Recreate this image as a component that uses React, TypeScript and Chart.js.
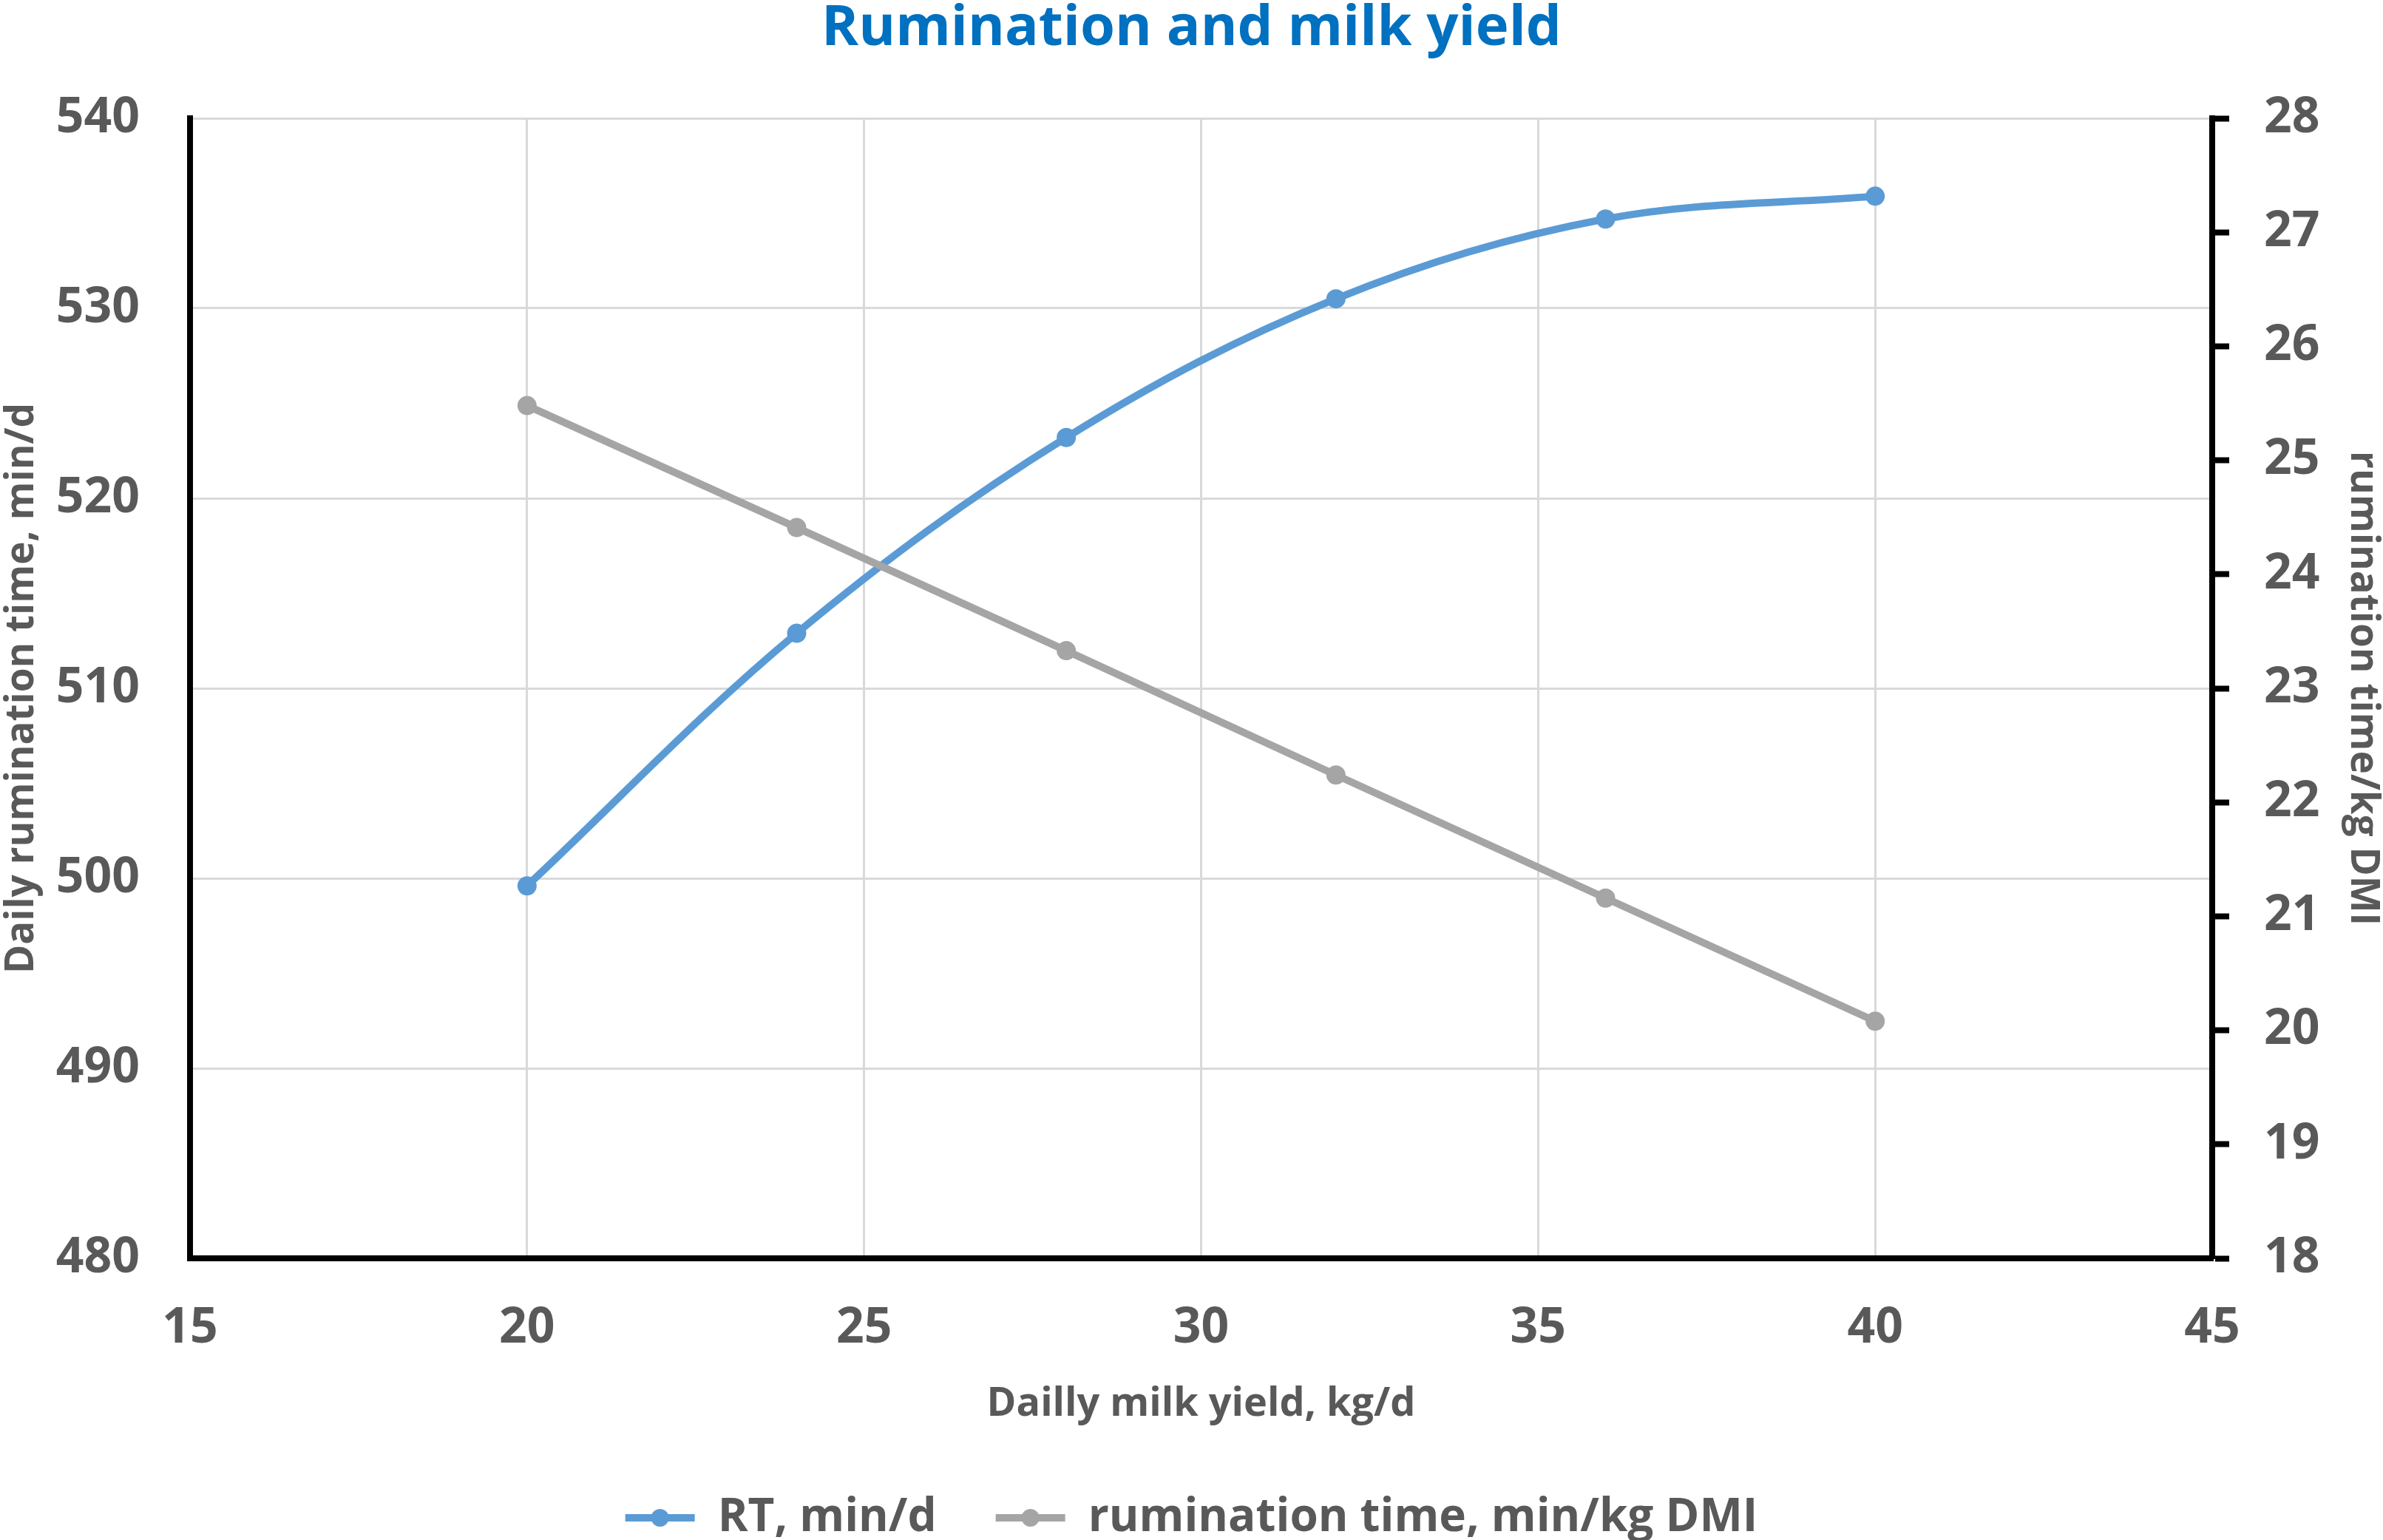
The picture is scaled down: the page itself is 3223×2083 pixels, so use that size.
import { useEffect, useRef } from "react";
import { Chart, registerables } from "chart.js";

Chart.register(...registerables);

// ---- data ----
const milkYield = [20, 24, 28, 32, 36, 40];
const rtMinPerDay = [499.6, 512.9, 523.2, 530.5, 534.7, 535.9];
const rtMinPerKgDMI = [25.48, 24.41, 23.33, 22.24, 21.16, 20.08];
const seriesLabels = ["RT, min/d", "rumination time, min/kg DMI"];
const chartTitle = "Rumination and milk yield";
const xAxisTitle = "Dailly milk yield, kg/d";
const yAxisTitle = "Daily rumination time, min/d";
const y2AxisTitle = "rumination time/kg DMI";

const FONT = "'Open Sans', 'DejaVu Sans', sans-serif";
const TEXT_GREY = "#595959";
const BLUE = "#5B9BD5";
const GREY = "#A5A5A5";
const GRID = "#D9D9D9";
const LEGEND_BOX = 94;
const LINE_W = 10;

const legendMarkers = {
  id: "legendMarkers",
  afterDraw(chart: any) {
    const legend = chart.legend;
    if (!legend || !legend.legendHitBoxes) return;
    const ctx = chart.ctx;
    legend.legendItems.forEach((item: any, i: number) => {
      const hb = legend.legendHitBoxes[i];
      if (!hb) return;
      const cx = hb.left + LEGEND_BOX / 2;
      const cy = hb.top + hb.height / 2;
      ctx.save();
      ctx.fillStyle = item.strokeStyle;
      ctx.beginPath();
      ctx.arc(cx, cy, 12, 0, Math.PI * 2);
      ctx.fill();
      ctx.restore();
    });
  },
};

export default function App() {
  const canvasRef = useRef<HTMLCanvasElement | null>(null);

  useEffect(() => {
    if (!canvasRef.current) return;
    const chart = new Chart(canvasRef.current, {
      type: "line",
      data: {
        datasets: [
          {
            label: seriesLabels[0],
            data: milkYield.map((x, i) => ({ x, y: rtMinPerDay[i] })),
            borderColor: BLUE,
            backgroundColor: BLUE,
            borderWidth: LINE_W,
            pointRadius: 12,
            pointBorderWidth: 2,
            pointBackgroundColor: BLUE,
            pointBorderColor: BLUE,
            tension: 0.35,
            yAxisID: "y",
            order: 1,
          },
          {
            label: seriesLabels[1],
            data: milkYield.map((x, i) => ({ x, y: rtMinPerKgDMI[i] })),
            borderColor: GREY,
            backgroundColor: GREY,
            borderWidth: LINE_W,
            pointRadius: 12,
            pointBorderWidth: 2,
            pointBackgroundColor: GREY,
            pointBorderColor: GREY,
            tension: 0,
            yAxisID: "y2",
            order: 0,
          },
        ],
      },
      options: {
        animation: false,
        responsive: true,
        maintainAspectRatio: false,
        devicePixelRatio: 1,
        layout: { padding: { left: 0, right: 0, top: 0, bottom: -11 } },
        plugins: {
          title: {
            display: true,
            text: chartTitle,
            color: "#0070C0",
            font: { family: FONT, size: 76, weight: "bold", lineHeight: 1 },
            padding: { top: 1, bottom: 83 },
          },
          legend: {
            display: true,
            position: "bottom",
            labels: {
              color: TEXT_GREY,
              font: { family: FONT, size: 62, weight: "bold" },
              usePointStyle: true,
              pointStyle: "line",
              pointStyleWidth: LEGEND_BOX,
              boxHeight: 62,
              padding: 80,
              sort: (a: any, b: any) => a.datasetIndex - b.datasetIndex,
              generateLabels: (chart: any) => {
                const base = (Chart as any).defaults.plugins.legend.labels.generateLabels(chart);
                return base.map((item: any) => {
                  const ds = chart.data.datasets[item.datasetIndex];
                  return {
                    ...item,
                    pointStyle: "line",
                    lineWidth: LINE_W,
                    strokeStyle: ds.borderColor,
                    fillStyle: ds.borderColor,
                  };
                });
              },
            },
          },
          tooltip: { enabled: false },
        },
        scales: {
          x: {
            type: "linear",
            position: "bottom",
            min: 15,
            max: 45,
            ticks: {
              stepSize: 5,
              color: TEXT_GREY,
              font: { family: FONT, size: 66, weight: "bold" },
              padding: 56,
            },
            grid: { color: GRID, lineWidth: 3, drawTicks: false },
            border: { display: true, color: "#000000", width: 8 },
            title: {
              display: true,
              text: xAxisTitle,
              color: TEXT_GREY,
              font: { family: FONT, size: 54, weight: "bold", lineHeight: 1 },
              padding: { top: 0, bottom: 15 },
            },
            afterFit: (scale: any) => {
              scale.height = 240;
            },
          },
          y: {
            type: "linear",
            position: "left",
            min: 480,
            max: 540,
            ticks: {
              stepSize: 10,
              color: TEXT_GREY,
              font: { family: FONT, size: 66, weight: "bold" },
              padding: 68,
            },
            grid: { color: GRID, lineWidth: 3, drawTicks: false },
            border: { display: true, color: "#000000", width: 8 },
            title: {
              display: true,
              text: yAxisTitle,
              color: TEXT_GREY,
              font: { family: FONT, size: 53, weight: "bold", lineHeight: 1 },
              padding: { top: 3, bottom: 0 },
            },
            afterFit: (scale: any) => {
              scale.width = 257;
            },
          },
          y2: {
            type: "linear",
            position: "right",
            min: 18,
            max: 28,
            ticks: {
              stepSize: 1,
              color: TEXT_GREY,
              font: { family: FONT, size: 66, weight: "bold" },
              padding: 47,
            },
            grid: {
              drawOnChartArea: false,
              drawTicks: true,
              tickLength: 23,
              tickColor: "#000000",
              tickWidth: 8,
            },
            border: { display: true, color: "#000000", width: 8 },
            title: {
              display: true,
              text: y2AxisTitle,
              color: TEXT_GREY,
              font: { family: FONT, size: 53, weight: "bold", lineHeight: 1 },
              padding: { top: 1, bottom: 0 },
            },
            afterFit: (scale: any) => {
              scale.width = 231;
            },
          },
        },
      } as any,
      plugins: [legendMarkers],
    });
    return () => chart.destroy();
  }, []);

  return (
    <div
      style={{
        position: "absolute",
        left: 0,
        top: 0,
        width: "3223px",
        height: "2083px",
        background: "#ffffff",
      }}
    >
      <canvas ref={canvasRef} />
    </div>
  );
}
